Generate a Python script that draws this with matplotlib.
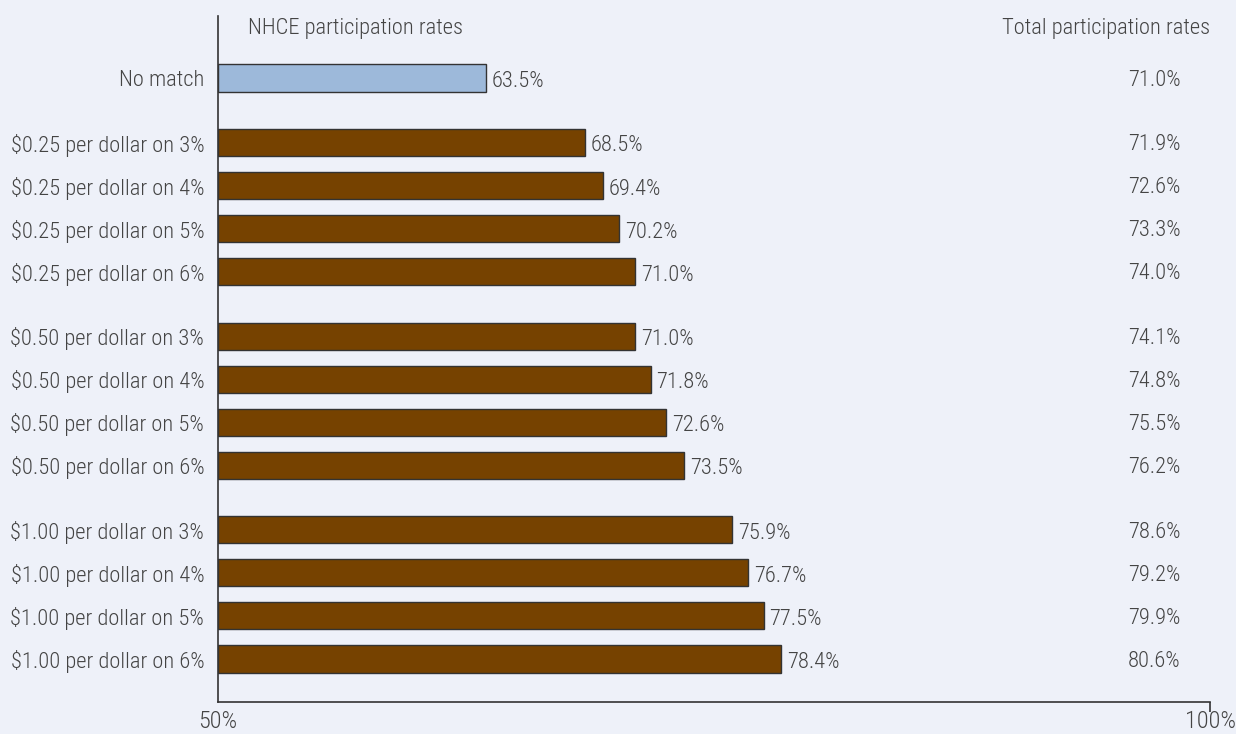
import numpy as np
import matplotlib.pyplot as plt
import matplotlib.transforms as mtransforms
from matplotlib import font_manager

# pick a narrow font if there is one
names = {f.name for f in font_manager.fontManager.ttflist}
fam = 'Roboto'
for cand in ['Roboto Condensed', 'Liberation Sans Narrow', 'Open Sans Condensed']:
    if cand in names:
        fam = cand
        break
plt.rcParams['font.family'] = [fam, 'DejaVu Sans']
plt.rcParams['font.weight'] = 'light'

# Data
labels = ['No match',
          '$0.25 per dollar on 3%', '$0.25 per dollar on 4%', '$0.25 per dollar on 5%', '$0.25 per dollar on 6%',
          '$0.50 per dollar on 3%', '$0.50 per dollar on 4%', '$0.50 per dollar on 5%', '$0.50 per dollar on 6%',
          '$1.00 per dollar on 3%', '$1.00 per dollar on 4%', '$1.00 per dollar on 5%', '$1.00 per dollar on 6%']
nhce = [63.5, 68.5, 69.4, 70.2, 71.0, 71.0, 71.8, 72.6, 73.5, 75.9, 76.7, 77.5, 78.4]
total = [71.0, 71.9, 72.6, 73.3, 74.0, 74.1, 74.8, 75.5, 76.2, 78.6, 79.2, 79.9, 80.6]
xticks = [50, 100]
xticklabels = ['50%', '100%']

bg = '#eef1f9'
brown = '#764200'
blue = '#9db9da'
txt = '#444444'
fs = 16.2

# row positions, extra gap between groups
ypos = np.array([0, 1.5, 2.5, 3.5, 4.5, 6, 7, 8, 9, 10.5, 11.5, 12.5, 13.5])
colors = [blue] + [brown] * 12

fig = plt.figure(figsize=(12.36, 7.34), dpi=100, facecolor=bg)
ax = fig.add_axes([0.1764, 0.0436, 0.979 - 0.1764, 0.9782 - 0.0436])
ax.set_facecolor(bg)

ax.barh(ypos, np.array(nhce) - 50, left=50, height=0.63, color=colors,
        edgecolor='#333333', linewidth=1)

for y, v in zip(ypos, nhce):
    ax.text(v + 0.3, y + 0.08, f'{v:.1f}%', va='center', ha='left', fontsize=fs, color=txt)

for y, v in zip(ypos, total):
    ax.text(0.9705, y + 0.05, f'{v:.1f}%', transform=ax.get_yaxis_transform(),
            va='center', ha='right', fontsize=fs, color=txt)

ax.text(0.03, 0.997, 'NHCE participation rates', transform=ax.transAxes,
        ha='left', va='top', fontsize=fs, color=txt)
ax.text(1.0, 0.997, 'Total participation rates', transform=ax.transAxes,
        ha='right', va='top', fontsize=fs, color=txt)

ax.set_xlim(50, 100)
ax.set_ylim(14.5, -1.44)
ax.set_yticks(ypos)
ax.set_yticklabels(labels, fontsize=fs, color=txt)
ax.tick_params(axis='y', length=0, pad=10)
ax.set_xticks(xticks)
ax.set_xticklabels([])
ax.tick_params(axis='x', length=7.5, width=1.2, color='#333333')
ax.xaxis.get_major_ticks()[0].tick1line.set_visible(False)

# x labels sit at the very bottom of the figure
trans = mtransforms.blended_transform_factory(ax.transData, fig.transFigure)
for xv, lab in zip(xticks, xticklabels):
    ax.text(xv, 0.001, lab, transform=trans, ha='center', va='bottom',
            fontsize=17.5, color=txt, clip_on=False)

for s in ['top', 'right']:
    ax.spines[s].set_visible(False)
for s in ['left', 'bottom']:
    ax.spines[s].set_color('#333333')
    ax.spines[s].set_linewidth(1.2)

fig.savefig('out.png', dpi=100, facecolor=bg)
